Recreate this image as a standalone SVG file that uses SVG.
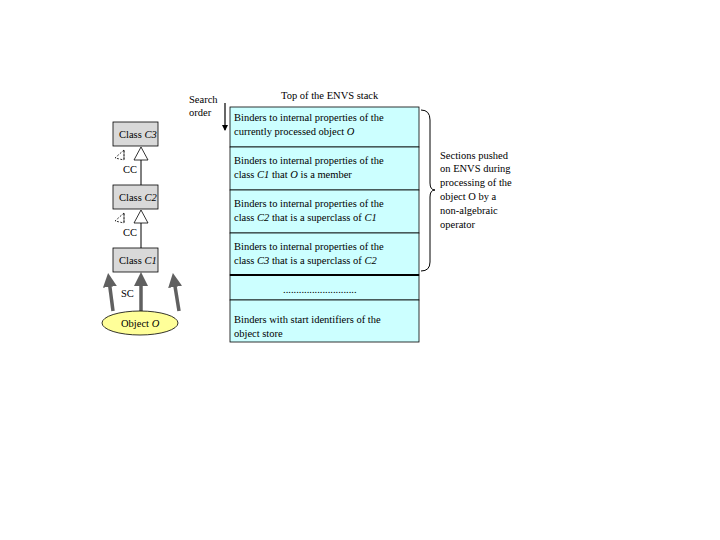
<svg xmlns="http://www.w3.org/2000/svg" width="720" height="540" viewBox="0 0 720 540">
<style>
text{font-family:"Liberation Serif",serif;font-size:10.5px;fill:#000}
.cls{fill:#d9d9d9;stroke:#000;stroke-width:0.8}
.row{fill:#ccffff;stroke:#000;stroke-width:0.8}
.ln{stroke:#000;stroke-width:1;fill:none}
.tri{fill:#fff;stroke:#000;stroke-width:0.8}
.fat{stroke:#606060;stroke-width:3.5;fill:none}
</style>
<defs>
<marker id="ga" markerWidth="4" markerHeight="4" refX="2" refY="2" orient="auto" markerUnits="strokeWidth"><path d="M0,0 L4,2 L0,4z" fill="#606060"/></marker>
<marker id="ba" markerWidth="6" markerHeight="6" refX="5" refY="3" orient="auto" markerUnits="userSpaceOnUse"><path d="M0,0 L6,3 L0,6z" fill="#000"/></marker>
</defs>
<rect width="720" height="540" fill="#fff"/>
<g id="connectors">
<line class="ln" x1="141" y1="160" x2="141" y2="185"/>
<polygon class="tri" points="141,147 134,160 148,160"/>
<line class="ln" x1="141" y1="223" x2="141" y2="248"/>
<polygon class="tri" points="141,210 134,223 148,223"/>
<path d="M124,150 L115,158 L124,160 Z M124,150 L124,160" fill="none" stroke="#000" stroke-width="0.8" stroke-dasharray="2,1.5"/>
<path d="M124,213 L115,221 L124,223 Z M124,213 L124,223" fill="none" stroke="#000" stroke-width="0.8" stroke-dasharray="2,1.5"/>
<line class="fat" x1="141" y1="311" x2="141" y2="279" marker-end="url(#ga)"/>
<line class="fat" x1="113" y1="311" x2="109" y2="280" marker-end="url(#ga)"/>
<line class="fat" x1="179" y1="311" x2="174" y2="280" marker-end="url(#ga)"/>
<line x1="225" y1="103" x2="225" y2="130" stroke="#000" stroke-width="1.2" marker-end="url(#ba)"/>
<path class="ln" d="M421,110 Q430,110 430,120 L430,183 Q430,190 435,190 Q430,190 430,197 L430,262 Q430,271 421,271" stroke-width="0.8"/>
</g>
<g id="classC3"><rect class="cls" x="113" y="122" width="45" height="24"/><text x="119" y="138">Class <tspan font-style="italic">C3</tspan></text></g>
<g id="classC2"><rect class="cls" x="113" y="185" width="45" height="24"/><text x="119" y="201">Class <tspan font-style="italic">C2</tspan></text></g>
<g id="classC1"><rect class="cls" x="113" y="248" width="45" height="24"/><text x="119" y="264">Class <tspan font-style="italic">C1</tspan></text></g>
<g id="objectO"><ellipse cx="140" cy="323" rx="38" ry="12" fill="#ffff99" stroke="#000" stroke-width="0.8"/><text x="121" y="327">Object <tspan font-style="italic">O</tspan></text></g>
<g id="labels">
<text x="123" y="173">CC</text>
<text x="123" y="236">CC</text>
<text x="121" y="297">SC</text>
<text x="189" y="103">Search</text>
<text x="189" y="116">order</text>
<text x="281" y="99">Top of the ENVS stack</text>
<text x="440" y="159">Sections pushed</text>
<text x="440" y="172">on ENVS during</text>
<text x="440" y="186">processing of the</text>
<text x="440" y="200">object O by a</text>
<text x="440" y="214">non-algebraic</text>
<text x="440" y="228">operator</text>
</g>
<g id="stack">
<rect class="row" x="230" y="107" width="189" height="40"/>
<rect class="row" x="230" y="147" width="189" height="43"/>
<rect class="row" x="230" y="190" width="189" height="43"/>
<rect class="row" x="230" y="233" width="189" height="42"/>
<rect class="row" x="230" y="275" width="189" height="25"/>
<rect class="row" x="230" y="300" width="189" height="42"/>
<line x1="230" y1="275" x2="419" y2="275" stroke="#000" stroke-width="1.8"/>
<text x="234" y="121">Binders to internal properties of the</text>
<text x="234" y="135">currently processed object <tspan font-style="italic">O</tspan></text>
<text x="234" y="164">Binders to internal properties of the</text>
<text x="234" y="178">class <tspan font-style="italic">C1</tspan> that <tspan font-style="italic">O</tspan> is a member</text>
<text x="234" y="207">Binders to internal properties of the</text>
<text x="234" y="221">class <tspan font-style="italic">C2</tspan> that is a superclass of <tspan font-style="italic">C1</tspan></text>
<text x="234" y="250">Binders to internal properties of the</text>
<text x="234" y="264">class <tspan font-style="italic">C3</tspan> that is a superclass of <tspan font-style="italic">C2</tspan></text>
<text x="283" y="293">............................</text>
<text x="234" y="323">Binders with start identifiers of the</text>
<text x="234" y="337">object store</text>
</g>
</svg>
